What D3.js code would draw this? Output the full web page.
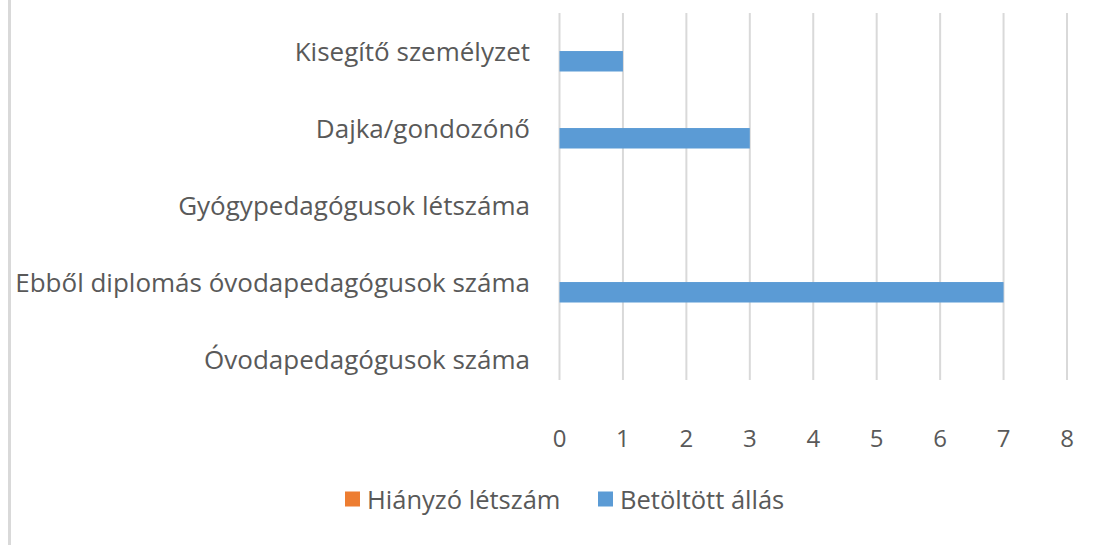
<!DOCTYPE html>
<html>
<head>
<meta charset="utf-8">
<script src="https://cdn.jsdelivr.net/npm/d3@7"></script>
<style>
  body { margin: 0; background: #fff; }
  text { font-family: "Open Sans", "Noto Sans", sans-serif; fill: #595959; }
</style>
</head>
<body>
<div id="chart"></div>
<script>
const WIDTH = 1106;
const HEIGHT = 545;

// categories top to bottom, as in the picture
const categories = [
  "Kisegítő személyzet",
  "Dajka/gondozónő",
  "Gyógypedagógusok létszáma",
  "Ebből diplomás óvodapedagógusok száma",
  "Óvodapedagógusok száma"
];
const seriesNames = ["Hiányzó létszám", "Betöltött állás"];
const hianyzo = [0, 0, 0, 0, 0];
const betoltott = [1, 3, 0, 7, 0];
const xTicks = [0, 1, 2, 3, 4, 5, 6, 7, 8];
const colors = ["#ED7D31", "#5B9BD5"];

const svg = d3.select("#chart")
  .append("svg")
  .attr("width", WIDTH)
  .attr("height", HEIGHT);

// frame edge on the left
svg.append("line")
  .attr("x1", 9.5).attr("x2", 9.5)
  .attr("y1", 0).attr("y2", HEIGHT)
  .style("stroke", "#d9d9d9")
  .style("stroke-width", 3);

const x = d3.scaleLinear().domain([0, 8]).range([559.5, 1067]);
const y0 = d3.scaleBand().domain(categories).range([12, 397]);
const y1 = d3.scaleBand().domain(seriesNames).range([-21, 21]).paddingInner(0.05);

const gridTop = 13, gridBottom = 380;

// vertical gridlines
svg.append("g")
  .selectAll("line")
  .data(xTicks)
  .enter()
  .append("line")
  .attr("x1", d => x(d)).attr("x2", d => x(d))
  .attr("y1", gridTop).attr("y2", gridBottom)
  .style("stroke", "#d9d9d9")
  .style("stroke-width", 2);

// tick labels
svg.append("g")
  .selectAll("text")
  .data(xTicks)
  .enter()
  .append("text")
  .attr("x", d => x(d))
  .attr("y", 437)
  .attr("text-anchor", "middle")
  .attr("dominant-baseline", "central")
  .style("font-size", "24px")
  .text(d => d);

// category labels
svg.append("g")
  .selectAll("text")
  .data(categories)
  .enter()
  .append("text")
  .attr("x", 530)
  .attr("y", d => y0(d) + y0.bandwidth() / 2)
  .attr("text-anchor", "end")
  .attr("dominant-baseline", "central")
  .style("font-size", "26px")
  .text(d => d);

// bars
const rows = categories.map((c, i) => ({cat: c, values: [hianyzo[i], betoltott[i]]}));
const group = svg.append("g")
  .selectAll("g")
  .data(rows)
  .enter()
  .append("g")
  .attr("transform", d => `translate(0, ${y0(d.cat) + y0.bandwidth() / 2})`);

group.selectAll("rect")
  .data(d => d.values.map((v, j) => ({name: seriesNames[j], value: v, color: colors[j]})))
  .enter()
  .append("rect")
  .attr("x", x(0))
  .attr("y", d => y1(d.name))
  .attr("width", d => x(d.value) - x(0))
  .attr("height", y1.bandwidth())
  .style("fill", d => d.color);

// legend
const legendX = [345, 598];
const legend = svg.append("g")
  .selectAll("g")
  .data(seriesNames)
  .enter()
  .append("g")
  .attr("transform", (d, i) => `translate(${legendX[i]}, 499)`);

legend.append("rect")
  .attr("x", 0).attr("y", -7.5)
  .attr("width", 15).attr("height", 15)
  .style("fill", (d, i) => colors[i]);

legend.append("text")
  .attr("x", 22)
  .attr("y", 0)
  .attr("dominant-baseline", "central")
  .style("font-size", "25.5px")
  .text(d => d);
</script>
</body>
</html>
